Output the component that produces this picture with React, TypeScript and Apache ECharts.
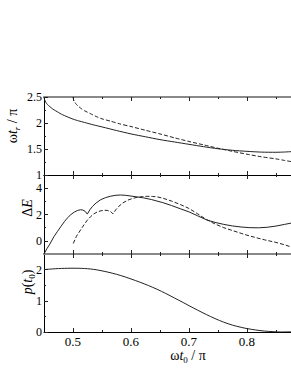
import React, { useEffect, useRef } from 'react';
import * as echarts from 'echarts';

// ---- axis ticks ----
const xMin = 0.45;
const xMax = 0.876;
const xMajorTicks = [0.5, 0.6, 0.7, 0.8];
const xMinorTicks = [0.55, 0.65, 0.75, 0.85];
const p1Range = [1, 2.5];
const p1Major = [1, 1.5, 2, 2.5];
const p1Minor = [1.25, 1.75, 2.25];
const p2Range = [-1, 5];
const p2Major = [0, 2, 4];
const p2Minor = [1, 3];
const p3Range = [0, 2.5];
const p3Major = [0, 1, 2];
const p3Minor = [0.5, 1.5];

// ---- data: omega t_r / pi ----
const trSolid: number[][] = [
  [0.45, 2.5], [0.451, 2.45], [0.453, 2.4], [0.456, 2.355], [0.46, 2.315], [0.465, 2.27], [0.47, 2.235],
  [0.48, 2.17], [0.49, 2.12], [0.5, 2.075], [0.51, 2.04], [0.52, 2.01], [0.535, 1.965], [0.55, 1.925],
  [0.575, 1.855], [0.6, 1.79], [0.625, 1.735], [0.65, 1.68], [0.675, 1.635], [0.7, 1.59], [0.725, 1.545],
  [0.75, 1.505], [0.775, 1.475], [0.8, 1.455], [0.825, 1.44], [0.85, 1.437], [0.865, 1.442], [0.88, 1.452],
];
const trDashed: number[][] = [
  [0.5, 2.5], [0.501, 2.45], [0.503, 2.4], [0.506, 2.355], [0.51, 2.315], [0.515, 2.27], [0.52, 2.235],
  [0.53, 2.18], [0.54, 2.125], [0.55, 2.08], [0.565, 2.035], [0.58, 1.985], [0.6, 1.932], [0.625, 1.86],
  [0.65, 1.79], [0.675, 1.715], [0.7, 1.645], [0.725, 1.58], [0.75, 1.515], [0.775, 1.455], [0.8, 1.4],
  [0.825, 1.35], [0.85, 1.31], [0.865, 1.28], [0.88, 1.25],
];

// ---- data: Delta E ----
const deSolid: number[][] = [
  [0.45, -1], [0.455, -0.6], [0.46, -0.25], [0.467, 0.31], [0.473, 0.7], [0.479, 1.08], [0.485, 1.45],
  [0.49, 1.72], [0.496, 1.98], [0.502, 2.18], [0.508, 2.31], [0.513, 2.36], [0.517, 2.34], [0.521, 2.24],
  [0.5247, 2.03], [0.529, 2.35], [0.5333, 2.6], [0.54, 2.88], [0.548, 3.13], [0.556, 3.28], [0.565, 3.39],
  [0.574, 3.46], [0.582, 3.48], [0.59, 3.46], [0.6, 3.4], [0.61, 3.34], [0.622, 3.26], [0.635, 3.14],
  [0.645, 3.02], [0.655, 2.9], [0.67, 2.68], [0.685, 2.44], [0.7, 2.2], [0.715, 1.9], [0.73, 1.6],
  [0.745, 1.4], [0.76, 1.25], [0.775, 1.13], [0.79, 1.05], [0.805, 1.0], [0.82, 0.99], [0.835, 1.03],
  [0.85, 1.12], [0.865, 1.25], [0.88, 1.38],
];
const deDashed: number[][] = [
  [0.5005, -0.2], [0.506, 0.35], [0.513, 0.82], [0.519, 1.22], [0.525, 1.59], [0.53, 1.82], [0.536, 2.05],
  [0.542, 2.2], [0.548, 2.28], [0.554, 2.32], [0.559, 2.31], [0.5649, 2.23], [0.5689, 2.05], [0.574, 2.37],
  [0.579, 2.62], [0.586, 2.88], [0.594, 3.08], [0.602, 3.21], [0.611, 3.31], [0.62, 3.36], [0.628, 3.38],
  [0.637, 3.37], [0.645, 3.34], [0.655, 3.24], [0.67, 3.02], [0.685, 2.76], [0.7, 2.46], [0.715, 2.05],
  [0.73, 1.62], [0.745, 1.28], [0.76, 1.0], [0.775, 0.78], [0.79, 0.57], [0.8, 0.43], [0.815, 0.25],
  [0.83, 0.08], [0.85, -0.12], [0.865, -0.3], [0.88, -0.52],
];

// ---- data: p(t0) ----
const pSolid: number[][] = [
  [0.45, 2.0], [0.46, 2.015], [0.47, 2.028], [0.48, 2.037], [0.49, 2.042], [0.5, 2.044], [0.51, 2.042],
  [0.52, 2.035], [0.53, 2.02], [0.54, 1.995], [0.55, 1.96], [0.56, 1.92], [0.575, 1.85], [0.59, 1.765],
  [0.6, 1.7], [0.615, 1.6], [0.63, 1.49], [0.645, 1.37], [0.66, 1.235], [0.675, 1.09], [0.69, 0.945],
  [0.7, 0.845], [0.715, 0.7], [0.73, 0.56], [0.745, 0.43], [0.76, 0.315], [0.775, 0.22], [0.79, 0.15],
  [0.8, 0.11], [0.815, 0.065], [0.83, 0.03], [0.845, 0.01], [0.86, 0.0], [0.875, 0.005], [0.88, 0.01],
];

const FONT = "'Liberation Serif', 'Times New Roman', serif";
const LINE = '#222';

const grids = [
  { top: 97, height: 78, topLine: { color: '#888', width: 2 }, botLine: { color: '#000', width: 1 } },
  { top: 175, height: 79, topLine: { color: '#000', width: 1 }, botLine: { color: '#888', width: 2 } },
  { top: 254, height: 78, topLine: { color: '#888', width: 2 }, botLine: { color: '#000', width: 1 } },
];
const yRanges = [p1Range, p2Range, p3Range];
const yMajors = [p1Major, p2Major, p3Major];
const yMinors = [p1Minor, p2Minor, p3Minor];

function buildOption() {
  const xAxis: any[] = [];
  const yAxis: any[] = [];
  grids.forEach((g, i) => {
    const base = {
      type: 'value', gridIndex: i, min: xMin, max: xMax,
      splitLine: { show: false },
    };
    xAxis.push({
      ...base, position: 'bottom',
      axisLine: { show: true, onZero: false, lineStyle: g.botLine },
      axisTick: { show: true, inside: true, length: 4, customValues: xMajorTicks, lineStyle: { color: LINE } },
      axisLabel: {
        show: i === 2, customValues: xMajorTicks, margin: 3,
        formatter: (v: number) => v.toFixed(1),
        fontFamily: FONT, fontSize: 13, color: '#000',
      },
    });
    xAxis.push({
      ...base, position: 'bottom',
      axisLine: { show: false, onZero: false },
      axisTick: { show: true, inside: true, length: 2, customValues: xMinorTicks, lineStyle: { color: LINE } },
      axisLabel: { show: false },
    });
    xAxis.push({
      ...base, position: 'top',
      axisLine: { show: true, onZero: false, lineStyle: g.topLine },
      axisTick: { show: true, inside: true, length: 4, customValues: xMajorTicks, lineStyle: { color: LINE } },
      axisLabel: { show: false },
    });
    xAxis.push({
      ...base, position: 'top',
      axisLine: { show: false, onZero: false },
      axisTick: { show: true, inside: true, length: 2, customValues: xMinorTicks, lineStyle: { color: LINE } },
      axisLabel: { show: false },
    });
    const yb = {
      type: 'value', gridIndex: i, min: yRanges[i][0], max: yRanges[i][1],
      splitLine: { show: false }, position: 'left',
    };
    yAxis.push({
      ...yb,
      axisLine: { show: true, onZero: false, lineStyle: { color: '#000', width: 1 } },
      axisTick: { show: true, inside: true, length: 4, customValues: yMajors[i], lineStyle: { color: LINE } },
      axisLabel: {
        show: true, customValues: yMajors[i], margin: 2,
        fontFamily: FONT, fontSize: 12, lineHeight: 11, color: '#000',
        formatter: (v: number) => String(v),
      },
    });
    yAxis.push({
      ...yb,
      axisLine: { show: false, onZero: false },
      axisTick: { show: true, inside: true, length: 2, customValues: yMinors[i], lineStyle: { color: LINE } },
      axisLabel: { show: false },
    });
  });

  const lineSeries = (data: number[][], gi: number, dashed: boolean, smooth: number) => ({
    type: 'line', data, xAxisIndex: gi * 4, yAxisIndex: gi * 2,
    showSymbol: false, symbol: 'none', smooth, clip: true,
    lineStyle: { color: LINE, width: 1, type: dashed ? [4, 2] : 'solid' },
  });

  const sub = { fontFamily: FONT, fontSize: 9, fill: '#000', verticalAlign: 'bottom', lineHeight: 9 };
  const txt = (extra: any) => ({ fontFamily: FONT, fontSize: 14, fill: '#000', lineHeight: 18, verticalAlign: 'middle', ...extra });

  return {
    animation: false,
    grid: grids.map((g) => ({ left: 44, right: 0, top: g.top, height: g.height })),
    xAxis, yAxis,
    series: [
      lineSeries(trSolid, 0, false, 0.25),
      lineSeries(trDashed, 0, true, 0.25),
      lineSeries(deSolid, 1, false, 0),
      lineSeries(deDashed, 1, true, 0),
      lineSeries(pSolid, 2, false, 0.3),
    ],
    graphic: [
      {
        type: 'text', x: 12, y: 126, rotation: Math.PI / 2,
        style: {
          text: '{a|ω}{i|t}{s|r}{a| / π}', align: 'center', verticalAlign: 'middle',
          rich: { a: txt({}), i: txt({ fontStyle: 'italic' }), s: { ...sub, fontStyle: 'italic' } },
        },
      },
      {
        type: 'text', x: 27, y: 208, rotation: Math.PI / 2,
        style: {
          text: '{a|Δ}{i|E}', align: 'center', verticalAlign: 'middle',
          rich: { a: txt({}), i: txt({ fontStyle: 'italic' }) },
        },
      },
      {
        type: 'text', x: 27, y: 282, rotation: Math.PI / 2,
        style: {
          text: '{i|p}{a|(}{i|t}{s|0}{a|)}', align: 'center', verticalAlign: 'middle',
          rich: { a: txt({}), i: txt({ fontStyle: 'italic' }), s: sub },
        },
      },
      {
        type: 'text', x: 188, y: 355,
        style: {
          text: '{a|ω}{i|t}{s|0}{a| / π}', align: 'center', verticalAlign: 'middle',
          rich: { a: txt({}), i: txt({ fontStyle: 'italic' }), s: sub },
        },
      },
    ],
  };
}

export default function App() {
  const ref = useRef<HTMLDivElement>(null);
  useEffect(() => {
    if (!ref.current) return;
    const chart = echarts.init(ref.current, undefined, { renderer: 'svg' });
    chart.setOption(buildOption() as any);
    return () => chart.dispose();
  }, []);
  return (
    <div
      ref={ref}
      style={{ position: 'absolute', left: 0, top: 0, width: 291, height: 376, background: '#fff' }}
    />
  );
}
